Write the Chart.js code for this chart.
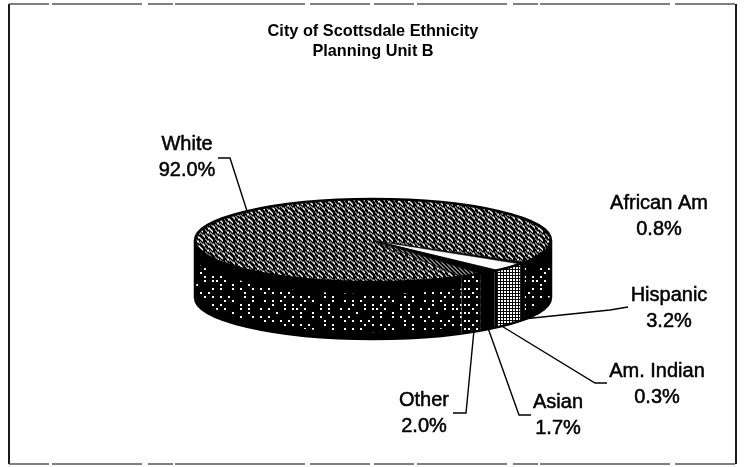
<!DOCTYPE html>
<html>
<head>
<meta charset="utf-8">
<title>City of Scottsdale Ethnicity</title>
<script src="https://cdn.jsdelivr.net/npm/chart.js@4/dist/chart.umd.min.js"></script>
<style>
  html, body { margin: 0; padding: 0; background: #fff; }
  canvas { display: block; }
</style>
</head>
<body>
<canvas id="ethnicityChart" width="744" height="467"></canvas>
<script>
// Data
const titleLines = ['City of Scottsdale Ethnicity', 'Planning Unit B'];
const categories = ['African Am', 'Hispanic', 'Am. Indian', 'Asian', 'Other', 'White'];
const shares     = [0.8, 3.2, 0.3, 1.7, 2.0, 92.0];

// Label placement: [centre x, first line y]
const labelSpots = [[659, 203], [669, 295], [657, 371], [558, 402], [424, 400], [187, 144]];

// Leader lines, same order as categories (African Am has none)
const leaders = [
    null,
    [[523, 319], [610, 310], [628, 307]],
    [[500, 325], [595, 383], [607, 383]],
    [[488, 328], [519, 415], [531, 415]],
    [[474, 330], [466, 413], [453, 413]],
    [[247, 211], [230, 158], [218, 158]]
];

const tilt  = 0.233;   // squash of the pie
const depth = 57;      // height of the wall

// Makes a repeating tile from rows of '#' cells
function makePattern(rows, cellW, cellH, dotW, dotH, squash) {
    const tile = document.createElement('canvas');
    tile.width = rows[0].length * cellW;
    tile.height = rows.length * cellH;
    const g = tile.getContext('2d');
    g.fillStyle = '#000';
    g.fillRect(0, 0, tile.width, tile.height);
    g.fillStyle = '#fff';
    rows.forEach((row, y) => {
        [...row].forEach((c, x) => {
            if (c === '#') g.fillRect(x * cellW, y * cellH, dotW, dotH);
        });
    });
    const pattern = g.createPattern(tile, 'repeat');
    if (squash) pattern.setTransform(new DOMMatrix().scale(1, 1 / tilt));
    return pattern;
}

const hatchTop = makePattern([
    '##...#....',
    '.##...#...',
    '..#....##.',
    '#......##.',
    '.#...#...#',
    '..##..#...',
    '...##..#..',
    '....#...##',
    '#.......##',
    '##...#....'
].slice(0, 9), 1, 1, 1, 1, true);
const hatchOther = makePattern(['#...', '.#..', '..#.', '...#'], 1, 1, 1, 1, true);
const dotsSparse = makePattern([
    '#.#..#.#...#.##.#...',
    '..#......#.....#..#.',
    '#..#.#.#.....#.#..#.',
    '.#....#.#.#.#.......',
    '.#.#.......#.#.#.#..',
    '...#..#.#.#.....#.#.',
    '#.#.....#..#.#.#....'
], 4, 4, 2, 2, false);
const dotsMedium = makePattern(['#.#', '.#.', '#.#', '...'], 4, 4, 2, 2, false);
const dotsDense  = makePattern(['#'], 3, 3, 2, 2, false);

const topFills  = ['#000', '#fff', '#000', '#000', hatchOther, hatchTop];
const wallFills = ['#000', dotsDense, '#000', '#000', dotsMedium, dotsSparse];
const wallBands = [false, false, false, false, false, true];

// Draws the flat pie as a tilted disc, using the arcs the library laid out
const discPlugin = {
    id: 'disc',
    beforeDatasetDraw(chart, args) {
        const ctx = chart.ctx;
        const arcs = args.meta.data;
        const first = arcs[0];
        const cx = first.x, cy = first.y, rx = first.outerRadius, ry = rx * tilt;

        const wall = (a0, a1, fill, band) => {
            if (a1 <= a0) return;
            ctx.save();
            ctx.beginPath();
            ctx.ellipse(cx, cy, rx, ry, 0, a0, a1);
            ctx.ellipse(cx, cy + depth, rx, ry, 0, a1, a0, true);
            ctx.closePath();
            ctx.fillStyle = fill;
            ctx.fill();
            if (band) {
                ctx.clip();
                ctx.strokeStyle = '#000';
                ctx.lineWidth = 24;
                ctx.beginPath();
                ctx.ellipse(cx, cy, rx, ry, 0, a0, a1);
                ctx.stroke();
                ctx.lineWidth = 14;
                ctx.beginPath();
                ctx.ellipse(cx, cy + depth, rx, ry, 0, a0, a1);
                ctx.stroke();
            }
            ctx.restore();
        };

        arcs.forEach((arc, i) => {
            // only the front half of the rim faces the viewer
            [0, 2 * Math.PI].forEach(turn => {
                const a0 = Math.max(arc.startAngle, turn);
                const a1 = Math.min(arc.endAngle, turn + Math.PI);
                wall(a0, a1, wallFills[i], wallBands[i]);
            });
        });

        ctx.save();
        ctx.translate(0, cy);
        ctx.scale(1, tilt);
        ctx.translate(0, -cy);
        arcs.forEach(arc => arc.draw(ctx));
        ctx.restore();

        // outline of the disc
        ctx.save();
        ctx.strokeStyle = '#000';
        ctx.lineWidth = 2.5;
        ctx.beginPath();
        ctx.ellipse(cx, cy, rx, ry, 0, 0, 2 * Math.PI);
        ctx.stroke();
        ctx.beginPath();
        ctx.moveTo(cx - rx, cy);
        ctx.lineTo(cx - rx, cy + depth);
        ctx.ellipse(cx, cy + depth, rx, ry, 0, Math.PI, 0, true);
        ctx.lineTo(cx + rx, cy);
        ctx.stroke();
        ctx.restore();
        return false;
    }
};

// Scanned frame, leader lines and slice labels
const notesPlugin = {
    id: 'notes',
    afterDraw(chart) {
        const ctx = chart.ctx;
        ctx.save();

        ctx.strokeStyle = '#1a1a1a';
        ctx.lineWidth = 2;
        ctx.beginPath();
        ctx.moveTo(9, 4);
        ctx.lineTo(9, 464);
        ctx.moveTo(736, 4);
        ctx.lineTo(736, 464);
        ctx.stroke();
        ctx.strokeStyle = '#555';
        ctx.lineWidth = 1.5;
        ctx.setLineDash([40, 3, 90, 6, 25, 2, 130, 5, 60, 4]);
        ctx.beginPath();
        ctx.moveTo(9, 4);
        ctx.lineTo(736, 4);
        ctx.moveTo(9, 464);
        ctx.lineTo(736, 464);
        ctx.stroke();
        ctx.setLineDash([]);

        ctx.strokeStyle = '#000';
        ctx.lineWidth = 1.4;
        leaders.forEach(points => {
            if (!points) return;
            ctx.beginPath();
            points.forEach((p, i) => i ? ctx.lineTo(p[0], p[1]) : ctx.moveTo(p[0], p[1]));
            ctx.stroke();
        });

        // the scan thickens the type a little, so stroke it as well
        ctx.fillStyle = '#000';
        ctx.lineWidth = 0.5;
        ctx.font = '20px "Liberation Sans", Arial, sans-serif';
        ctx.textAlign = 'center';
        ctx.textBaseline = 'middle';
        categories.forEach((name, i) => {
            const [x, y] = labelSpots[i];
            const share = shares[i].toFixed(1) + '%';
            ctx.fillText(name, x, y);
            ctx.strokeText(name, x, y);
            ctx.fillText(share, x, y + 26);
            ctx.strokeText(share, x, y + 26);
        });
        ctx.restore();
    }
};

new Chart(document.getElementById('ethnicityChart').getContext('2d'), {
    type: 'pie',
    data: {
        labels: categories,
        datasets: [{
            data: shares,
            backgroundColor: topFills,
            borderColor: '#000',
            borderWidth: 1,
            radius: 178
        }]
    },
    options: {
        responsive: false,
        animation: false,
        rotation: 121.4,
        layout: { padding: { left: 2, bottom: 48 } },
        plugins: {
            legend: { display: false },
            tooltip: { enabled: false },
            title: {
                display: true,
                text: titleLines,
                color: '#000',
                font: { family: '"Liberation Sans", Arial, sans-serif', size: 16.3, weight: 'bold', lineHeight: 1.2 },
                padding: { top: 22, bottom: 1 }
            }
        }
    },
    plugins: [discPlugin, notesPlugin]
});
</script>
</body>
</html>
